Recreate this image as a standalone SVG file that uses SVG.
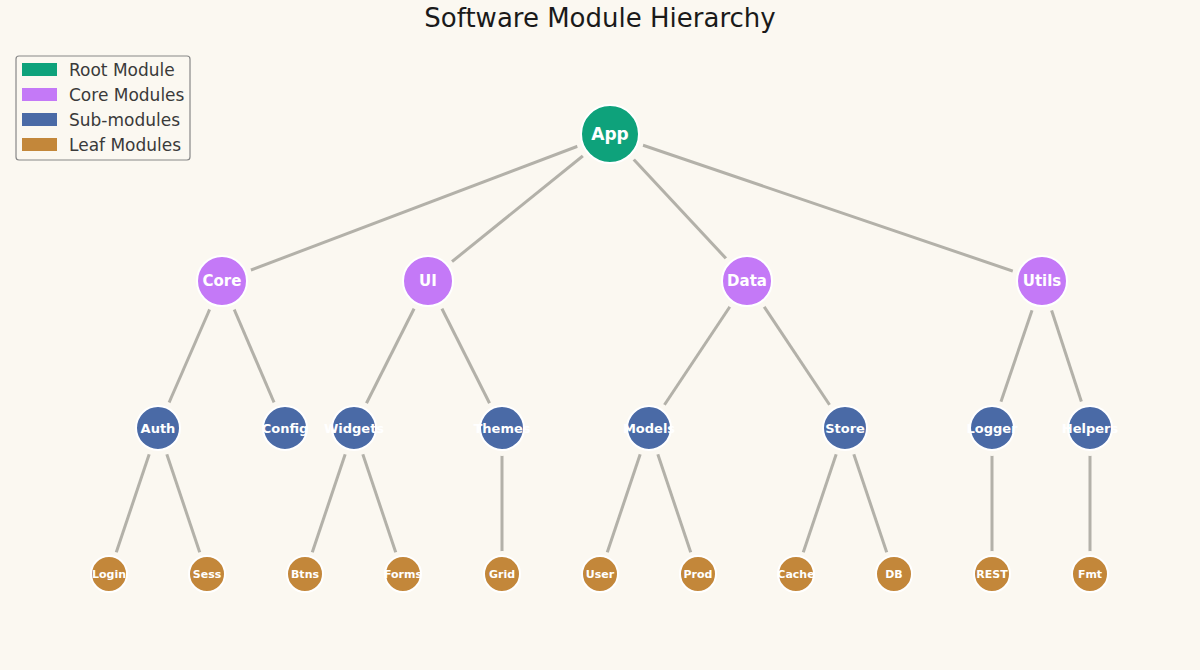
<svg xmlns="http://www.w3.org/2000/svg" width="1200" height="670" viewBox="0 0 1200 670">
<style>
text{font-family:"DejaVu Sans",sans-serif}
.e{stroke:#b3b1a9;stroke-width:3;fill:none}
.h{fill:#fbf8f1}
.n{stroke:#ffffff;stroke-width:2}
.r{fill:#0ea27b}.c{fill:#c479f7}.s{fill:#4a6aa6}.l{fill:#c3873a}
.t{fill:#ffffff;font-weight:bold;text-anchor:middle;dominant-baseline:central}
.lg{fill:#3a3a3a;font-size:17px}
</style>
<rect width="1200" height="670" fill="#fbf8f1"/>
<text x="600" y="27" font-size="26" text-anchor="middle" fill="#1a1a1a">Software Module Hierarchy</text>
<g id="legend">
<rect x="16" y="56" width="174" height="104" rx="3" fill="#fbf8f1" stroke="#888" stroke-width="1.2"/>
<rect x="22" y="63" width="35" height="13" class="r"/><text x="69" y="76" class="lg">Root Module</text>
<rect x="22" y="88" width="35" height="13" class="c"/><text x="69" y="101" class="lg">Core Modules</text>
<rect x="22" y="113" width="35" height="13" class="s"/><text x="69" y="126" class="lg">Sub-modules</text>
<rect x="22" y="138" width="35" height="13" class="l"/><text x="69" y="151" class="lg">Leaf Modules</text>
</g>
<g id="connectors" class="e">
<line x1="610" y1="134" x2="222" y2="281"/><line x1="610" y1="134" x2="428" y2="281"/>
<line x1="610" y1="134" x2="747" y2="281"/><line x1="610" y1="134" x2="1042" y2="281"/>
<line x1="222" y1="281" x2="158" y2="428"/><line x1="222" y1="281" x2="285" y2="428"/>
<line x1="428" y1="281" x2="354" y2="428"/><line x1="428" y1="281" x2="502" y2="428"/>
<line x1="747" y1="281" x2="649" y2="428"/><line x1="747" y1="281" x2="845" y2="428"/>
<line x1="1042" y1="281" x2="992" y2="428"/><line x1="1042" y1="281" x2="1090" y2="428"/>
<line x1="158" y1="428" x2="109" y2="574"/><line x1="158" y1="428" x2="207" y2="574"/>
<line x1="354" y1="428" x2="305" y2="574"/><line x1="354" y1="428" x2="403" y2="574"/>
<line x1="502" y1="428" x2="502" y2="574"/>
<line x1="649" y1="428" x2="600" y2="574"/><line x1="649" y1="428" x2="698" y2="574"/>
<line x1="845" y1="428" x2="796" y2="574"/><line x1="845" y1="428" x2="894" y2="574"/>
<line x1="992" y1="428" x2="992" y2="574"/><line x1="1090" y1="428" x2="1090" y2="574"/>
</g>
<g id="halos" class="h">
<circle cx="610" cy="134" r="35"/>
<circle cx="222" cy="281" r="31"/><circle cx="428" cy="281" r="31"/><circle cx="747" cy="281" r="31"/><circle cx="1042" cy="281" r="31"/>
<circle cx="158" cy="428" r="28"/><circle cx="285" cy="428" r="28"/><circle cx="354" cy="428" r="28"/><circle cx="502" cy="428" r="28"/><circle cx="649" cy="428" r="28"/><circle cx="845" cy="428" r="28"/><circle cx="992" cy="428" r="28"/><circle cx="1090" cy="428" r="28"/>
<circle cx="109" cy="574" r="23"/><circle cx="207" cy="574" r="23"/><circle cx="305" cy="574" r="23"/><circle cx="403" cy="574" r="23"/><circle cx="502" cy="574" r="23"/><circle cx="600" cy="574" r="23"/><circle cx="698" cy="574" r="23"/><circle cx="796" cy="574" r="23"/><circle cx="894" cy="574" r="23"/><circle cx="992" cy="574" r="23"/><circle cx="1090" cy="574" r="23"/>
</g>
<g id="n-app"><circle cx="610" cy="134" r="29" class="n r"/><text x="610" y="134" class="t" font-size="17">App</text></g>
<g id="n-core"><circle cx="222" cy="281" r="25" class="n c"/><text x="222" y="281" class="t" font-size="15">Core</text></g>
<g id="n-ui"><circle cx="428" cy="281" r="25" class="n c"/><text x="428" y="281" class="t" font-size="15">UI</text></g>
<g id="n-data"><circle cx="747" cy="281" r="25" class="n c"/><text x="747" y="281" class="t" font-size="15">Data</text></g>
<g id="n-utils"><circle cx="1042" cy="281" r="25" class="n c"/><text x="1042" y="281" class="t" font-size="15">Utils</text></g>
<g id="n-auth"><circle cx="158" cy="428" r="22" class="n s"/><text x="158" y="428" class="t" font-size="13">Auth</text></g>
<g id="n-config"><circle cx="285" cy="428" r="22" class="n s"/><text x="285" y="428" class="t" font-size="13">Config</text></g>
<g id="n-widgets"><circle cx="354" cy="428" r="22" class="n s"/><text x="354" y="428" class="t" font-size="13">Widgets</text></g>
<g id="n-themes"><circle cx="502" cy="428" r="22" class="n s"/><text x="502" y="428" class="t" font-size="13">Themes</text></g>
<g id="n-models"><circle cx="649" cy="428" r="22" class="n s"/><text x="649" y="428" class="t" font-size="13">Models</text></g>
<g id="n-store"><circle cx="845" cy="428" r="22" class="n s"/><text x="845" y="428" class="t" font-size="13">Store</text></g>
<g id="n-logger"><circle cx="992" cy="428" r="22" class="n s"/><text x="992" y="428" class="t" font-size="13">Logger</text></g>
<g id="n-helpers"><circle cx="1090" cy="428" r="22" class="n s"/><text x="1090" y="428" class="t" font-size="13">Helpers</text></g>
<g id="n-login"><circle cx="109" cy="574" r="18" class="n l"/><text x="109" y="574" class="t" font-size="11">Login</text></g>
<g id="n-sess"><circle cx="207" cy="574" r="18" class="n l"/><text x="207" y="574" class="t" font-size="11">Sess</text></g>
<g id="n-btns"><circle cx="305" cy="574" r="18" class="n l"/><text x="305" y="574" class="t" font-size="11">Btns</text></g>
<g id="n-forms"><circle cx="403" cy="574" r="18" class="n l"/><text x="403" y="574" class="t" font-size="11">Forms</text></g>
<g id="n-grid"><circle cx="502" cy="574" r="18" class="n l"/><text x="502" y="574" class="t" font-size="11">Grid</text></g>
<g id="n-user"><circle cx="600" cy="574" r="18" class="n l"/><text x="600" y="574" class="t" font-size="11">User</text></g>
<g id="n-prod"><circle cx="698" cy="574" r="18" class="n l"/><text x="698" y="574" class="t" font-size="11">Prod</text></g>
<g id="n-cache"><circle cx="796" cy="574" r="18" class="n l"/><text x="796" y="574" class="t" font-size="11">Cache</text></g>
<g id="n-db"><circle cx="894" cy="574" r="18" class="n l"/><text x="894" y="574" class="t" font-size="11">DB</text></g>
<g id="n-rest"><circle cx="992" cy="574" r="18" class="n l"/><text x="992" y="574" class="t" font-size="11">REST</text></g>
<g id="n-fmt"><circle cx="1090" cy="574" r="18" class="n l"/><text x="1090" y="574" class="t" font-size="11">Fmt</text></g>
</svg>
